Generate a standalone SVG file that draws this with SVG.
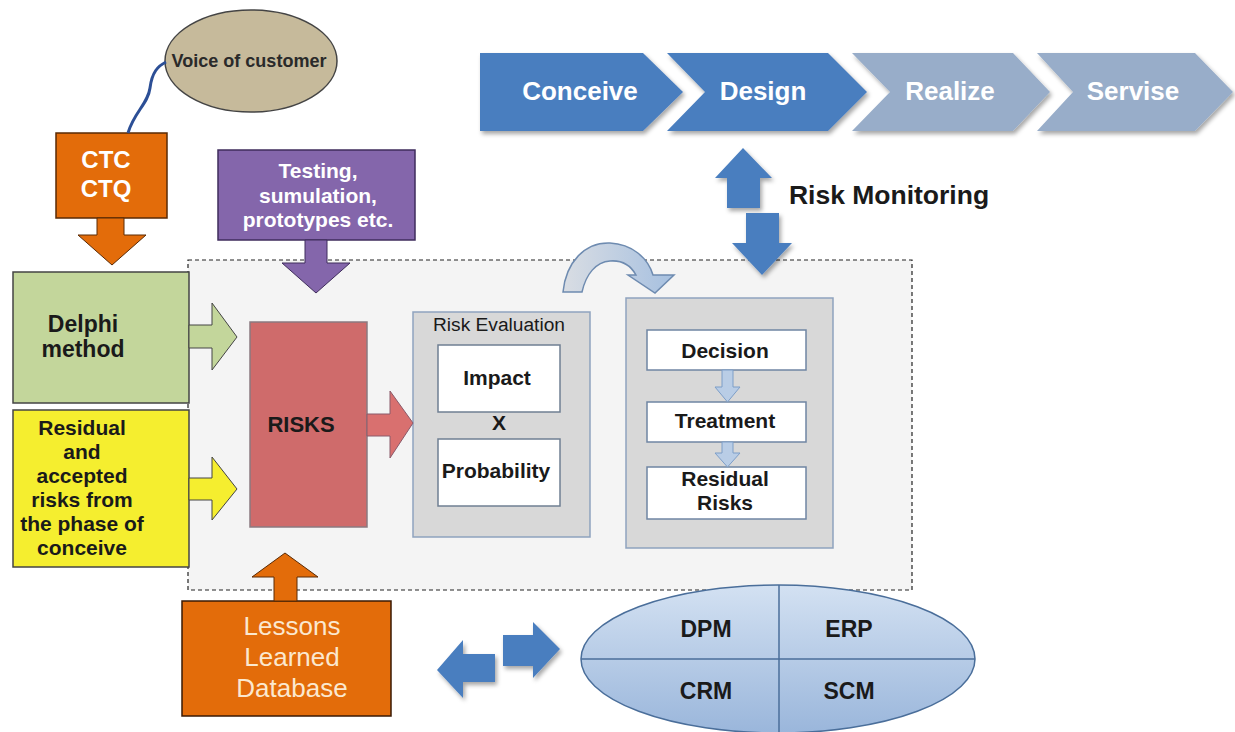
<svg xmlns="http://www.w3.org/2000/svg" width="1235" height="732" viewBox="0 0 1235 732">
<style>
.b{font-family:"Liberation Sans",Arial,sans-serif;font-weight:bold;text-anchor:middle}
.r{font-family:"Liberation Sans",Arial,sans-serif;text-anchor:middle}
.dk{fill:#1a1a1a}
.wh{fill:#ffffff}
.chevA{fill:#4a7ebf}
.chevB{fill:#98adc9}
.blue{fill:#4a7ebf}
.inner{fill:#ffffff;stroke:#6f7f92;stroke-width:1.5}
.step{fill:#ffffff;stroke:#6f85a3;stroke-width:1.5}
.small{fill:#b9cde6;stroke:#7d9ec8;stroke-width:1}
</style>
<defs>
<filter id="sh" x="-10%" y="-10%" width="125%" height="130%">
<feDropShadow dx="2" dy="3" stdDeviation="2" flood-color="#000" flood-opacity="0.35"/>
</filter>
<linearGradient id="ellG" x1="0" y1="0" x2="0" y2="1">
<stop offset="0" stop-color="#d3e1f2"/>
<stop offset="1" stop-color="#9ab6db"/>
</linearGradient>
<linearGradient id="curG" x1="0" y1="0" x2="1" y2="0">
<stop offset="0" stop-color="#d9dde3"/>
<stop offset="1" stop-color="#a6c0e0"/>
</linearGradient>
</defs>
<rect width="1235" height="732" fill="#ffffff"/>

<g id="phase-box">
<rect x="188" y="260" width="724" height="330" fill="#f4f4f4" stroke="#222" stroke-width="1.2" stroke-dasharray="4,3"/>
</g>

<g id="chevrons">
<g id="conceive">
<polygon class="chevA" filter="url(#sh)" points="480,53 643,53 683,92 643,131 480,131"/>
<text class="b wh" x="580" y="100" font-size="26">Conceive</text>
</g>
<g id="design">
<polygon class="chevA" filter="url(#sh)" points="667,53 828,53 867,92 828,131 667,131 705,92"/>
<text class="b wh" x="763" y="100" font-size="26">Design</text>
</g>
<g id="realize">
<polygon class="chevB" filter="url(#sh)" points="852,53 1013,53 1050,92 1013,131 852,131 890,92"/>
<text class="b wh" x="950" y="100" font-size="26">Realize</text>
</g>
<g id="servise">
<polygon class="chevB" filter="url(#sh)" points="1037,53 1195,53 1233,92 1195,131 1037,131 1073,92"/>
<text class="b wh" x="1133" y="100" font-size="26">Servise</text>
</g>
</g>

<g id="risk-monitoring">
<text class="b dk" x="889" y="204" font-size="26.5">Risk Monitoring</text>
</g>

<g id="voice">
<ellipse cx="251" cy="61" rx="86" ry="51" fill="#c6ba9b" stroke="#444" stroke-width="1.5"/>
<text class="b" fill="#2a2a2a" x="249" y="67" font-size="18" textLength="155" lengthAdjust="spacingAndGlyphs">Voice of customer</text>
</g>

<g id="ctc">
<rect x="56" y="133" width="111" height="85" fill="#e36c0a" stroke="#5a2a05" stroke-width="1.5"/>
<text class="b wh" x="106" y="168" font-size="24">CTC</text>
<text class="b wh" x="106" y="197" font-size="24">CTQ</text>
</g>

<g id="testing">
<rect x="218" y="150" width="197" height="90" fill="#8466ab" stroke="#3f2d5c" stroke-width="1.5"/>
<text class="b wh" x="318" y="178" font-size="21">Testing,</text>
<text class="b wh" x="318" y="203" font-size="21">sumulation,</text>
<text class="b wh" x="318" y="227" font-size="21">prototypes etc.</text>
</g>

<g id="delphi">
<rect x="13" y="272" width="176" height="131" fill="#c3d69b" stroke="#444" stroke-width="1.5"/>
<text class="b dk" x="83" y="332" font-size="23">Delphi</text>
<text class="b dk" x="83" y="357" font-size="23">method</text>
</g>

<g id="residual-accepted">
<rect x="13" y="410" width="176" height="157" fill="#f5ee2f" stroke="#444" stroke-width="1.5"/>
<text class="b dk" x="82" y="435" font-size="21">Residual</text>
<text class="b dk" x="82" y="459" font-size="21">and</text>
<text class="b dk" x="82" y="483" font-size="21">accepted</text>
<text class="b dk" x="82" y="507" font-size="21">risks from</text>
<text class="b dk" x="82" y="531" font-size="21">the phase of</text>
<text class="b dk" x="82" y="555" font-size="21">conceive</text>
</g>

<g id="risks">
<rect x="250" y="322" width="117" height="205" fill="#cf6b6b" stroke="#8a7a80" stroke-width="1.5"/>
<text class="b dk" x="301" y="432" font-size="22">RISKS</text>
</g>

<g id="risk-evaluation">
<rect x="413" y="312" width="177" height="225" fill="#d8d8d8" stroke="#8ea3be" stroke-width="1.5"/>
<text class="r dk" x="499" y="331" font-size="18" textLength="132" lengthAdjust="spacingAndGlyphs">Risk Evaluation</text>
<rect class="inner" x="438" y="345" width="122" height="67"/>
<text class="b dk" x="497" y="385" font-size="21">Impact</text>
<text class="b dk" x="499" y="430" font-size="21">X</text>
<rect class="inner" x="438" y="439" width="122" height="67"/>
<text class="b dk" x="496" y="478" font-size="21">Probability</text>
</g>

<g id="treatment-process">
<rect x="626" y="298" width="207" height="250" fill="#d8d8d8" stroke="#8ea3be" stroke-width="1.5"/>
<g id="decision">
<rect class="step" x="647" y="330" width="159" height="40"/>
<text class="b dk" x="725" y="358" font-size="21">Decision</text>
</g>
<g id="treatment">
<rect class="step" x="647" y="402" width="159" height="40"/>
<text class="b dk" x="725" y="428" font-size="21">Treatment</text>
</g>
<g id="residual-risks">
<rect class="step" x="647" y="467" width="159" height="52"/>
<text class="b dk" x="725" y="486" font-size="21">Residual</text>
<text class="b dk" x="725" y="510" font-size="21">Risks</text>
</g>
</g>

<g id="lessons">
<rect x="182" y="601" width="209" height="115" fill="#e36c0a" stroke="#3a1a05" stroke-width="1.5"/>
<text class="r" fill="#fbe8cf" x="292" y="635" font-size="26">Lessons</text>
<text class="r" fill="#fbe8cf" x="292" y="666" font-size="26">Learned</text>
<text class="r" fill="#fbe8cf" x="292" y="697" font-size="26">Database</text>
</g>

<g id="systems">
<ellipse cx="778" cy="659" rx="197" ry="74" fill="url(#ellG)" stroke="#4a6e9a" stroke-width="1.5"/>
<line x1="581" y1="659" x2="975" y2="659" stroke="#4a6e9a" stroke-width="1.5"/>
<line x1="779" y1="585" x2="779" y2="733" stroke="#4a6e9a" stroke-width="1.5"/>
<text class="b dk" x="706" y="637" font-size="23">DPM</text>
<text class="b dk" x="849" y="637" font-size="23">ERP</text>
<text class="b dk" x="706" y="699" font-size="23">CRM</text>
<text class="b dk" x="849" y="699" font-size="23">SCM</text>
</g>

<g id="connectors">
<path d="M128,133 C134,112 148,104 150,88 C152,72 158,66 166,62" fill="none" stroke="#2c4f96" stroke-width="3"/>
<polygon points="97,218 124,218 124,235 146,235 112,265 78,235 97,235" fill="#e36c0a" stroke="#5a2a05" stroke-width="1"/>
<polygon points="305,240 327,240 327,263 350,263 316,293 282,263 305,263" fill="#8466ab" stroke="#3f2d5c" stroke-width="1"/>
<polygon points="189,325 212,325 212,303 237,337 212,370 212,348 189,348" fill="#c3d69b" stroke="#444" stroke-width="1"/>
<polygon points="189,478 212,478 212,457 237,489 212,520 212,500 189,500" fill="#f5ee2f" stroke="#444" stroke-width="1"/>
<polygon points="367,414 390,414 390,391 413,423 390,458 390,436 367,436" fill="#d9706f" stroke="#8a5a6a" stroke-width="1"/>
<polygon points="274,601 297,601 297,577 318,577 285,553 252,577 274,577" fill="#e36c0a" stroke="#5a2a05" stroke-width="1"/>
<polygon class="blue" filter="url(#sh)" points="727,208 760,208 760,178 772,178 743,148 715,178 727,178"/>
<polygon class="blue" filter="url(#sh)" points="746,213 779,213 779,243 792,243 762,275 732,243 746,243"/>
<path d="M563,292 C566,262 585,242 610,243 C632,244 648,258 653,275 L674,275 L655,293 L628,275 L636,275 C631,266 622,260 610,261 C596,262 586,274 582,292 Z" fill="url(#curG)" stroke="#6e8bb0" stroke-width="1.5"/>
<polygon class="small" points="722,370 733,370 733,387 740,387 727.5,402 715,387 722,387"/>
<polygon class="small" points="722,442 733,442 733,453 740,453 727.5,467 715,453 722,453"/>
<polygon class="blue" filter="url(#sh)" points="495,654 463,654 463,640 437,670 463,698 463,682 495,682"/>
<polygon class="blue" filter="url(#sh)" points="503,635 533,635 533,622 560,649 533,678 533,666 503,666"/>
</g>
</svg>
